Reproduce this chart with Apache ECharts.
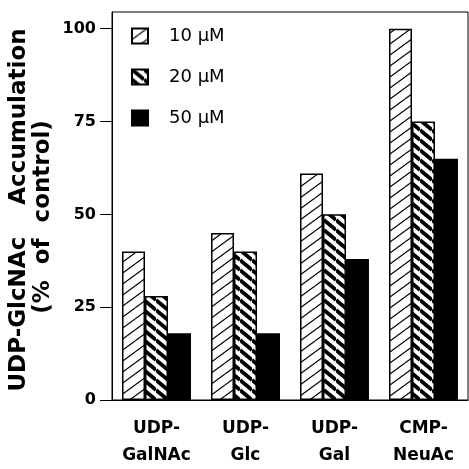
<!DOCTYPE html>
<html>
  <head>
    <meta charset="UTF-8" />
    <title>UDP-GlcNAc accumulation</title>
    <script type="text/javascript" src="https://cdn.jsdelivr.net/npm/echarts@6/dist/echarts.min.js"></script>
  </head>
  <body style="margin: 0; background: #fff">
    <div id="chart" style="height: 469px; width: 469px"></div>
    <script>
      var categories = ["UDP-\nGalNAc", "UDP-\nGlc", "UDP-\nGal", "CMP-\nNeuAc"];
      var seriesNames = ["10 µM", "20 µM", "50 µM"];
      var values10 = [40, 45, 61, 100];
      var values20 = [28, 40, 50, 75];
      var values50 = [18, 18, 38, 65];
      var yTicks = [0, 25, 50, 75, 100];

      // hatch tiles for the bars (w x h tile, one line per tile)
      function hatch(dir, w, h, width) {
        var c = document.createElement("canvas");
        c.width = w;
        c.height = h;
        var ctx = c.getContext("2d");
        ctx.fillStyle = "#fff";
        ctx.fillRect(0, 0, w, h);
        ctx.strokeStyle = "#000";
        ctx.lineWidth = width;
        for (var k = -1; k <= 1; k++) {
          ctx.beginPath();
          if (dir === "/") {
            ctx.moveTo(0, h + k * h);
            ctx.lineTo(w, k * h);
          } else {
            ctx.moveTo(0, k * h);
            ctx.lineTo(w, h + k * h);
          }
          ctx.stroke();
        }
        return { image: c, repeat: "repeat" };
      }

      var fills = [hatch("/", 15, 11, 1.2), hatch("\\", 12, 10, 3.8), "#000"];
      var allValues = [values10, values20, values50];

      var series = [];
      for (var i = 0; i < seriesNames.length; i++) {
        series.push({
          name: seriesNames[i],
          type: "bar",
          barGap: "0%",
          barCategoryGap: "22.5%",
          data: allValues[i],
          itemStyle: {
            color: fills[i],
            borderColor: "#000",
            borderWidth: 1.5,
          },
        });
      }

      var option = {
        backgroundColor: "#fff",
        animation: false,
        grid: {
          left: 112,
          right: 1,
          top: 12,
          bottom: 66,
          show: true,
          borderColor: "#000",
          borderWidth: 1,
        },
        legend: {
          orient: "vertical",
          left: 126,
          top: 22,
          itemWidth: 16,
          itemHeight: 15,
          itemGap: 23,
          icon: "rect",
          data: seriesNames,
          textStyle: {
            fontFamily: "DejaVu Sans",
            fontSize: 18,
            color: "#000",
            padding: [0, 0, 0, 16],
          },
        },
        xAxis: {
          type: "category",
          data: categories,
          axisLine: { lineStyle: { color: "#000", width: 1 } },
          axisTick: { alignWithLabel: true, length: 7, lineStyle: { color: "#000" } },
          axisLabel: {
            interval: 0,
            margin: 15,
            fontFamily: "DejaVu Sans",
            fontWeight: "bold",
            fontSize: 17,
            lineHeight: 27,
            color: "#000",
          },
        },
        yAxis: {
          type: "value",
          min: 0,
          max: 104.5,
          interval: 25,
          splitLine: { show: false },
          axisLine: { show: true, lineStyle: { color: "#000", width: 1 } },
          axisTick: { show: true, length: 12, customValues: yTicks, lineStyle: { color: "#000" } },
          axisLabel: {
            margin: 16,
            customValues: yTicks,
            fontFamily: "DejaVu Sans",
            fontWeight: "bold",
            fontSize: 16,
            color: "#000",
          },
        },
        graphic: [
          {
            type: "text",
            x: 19,
            y: 210,
            rotation: Math.PI / 2,
            style: {
              text: "UDP-GlcNAc    Accumulation",
              font: "bold 23px 'DejaVu Sans'",
              fill: "#000",
              textAlign: "center",
              textVerticalAlign: "middle",
            },
          },
          {
            type: "text",
            x: 43,
            y: 217,
            rotation: Math.PI / 2,
            style: {
              text: "(%  of  control)",
              font: "bold 23px 'DejaVu Sans'",
              fill: "#000",
              textAlign: "center",
              textVerticalAlign: "middle",
            },
          },
        ],
        series: series,
      };

      var myChart = echarts.init(document.getElementById("chart"));
      myChart.setOption(option);
    </script>
  </body>
</html>
